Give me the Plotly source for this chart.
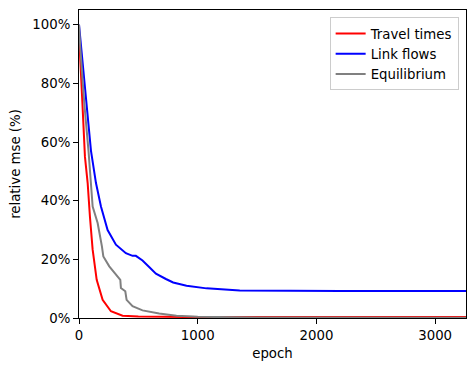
import plotly.graph_objects as go

# Data
red_epoch = [0, 8, 29, 50, 73, 92, 115, 149, 199, 269, 367, 500, 700, 1000, 2000, 3260]
red_vals = [97, 91.4, 73, 55, 46, 34.6, 23.3, 13, 6.2, 2.3, 0.8, 0.5, 0.35, 0.3, 0.3, 0.3]

blue_epoch = [0, 19, 62, 101, 143, 185, 241, 311, 395, 451, 479, 535, 591, 648, 732, 793, 906, 1074, 1354, 1700, 2200, 3260]
blue_vals = [100, 91.4, 73, 57, 46, 38, 30, 25, 22.1, 21.2, 21.2, 19.6, 17.4, 15.1, 13.3, 12.1, 11, 10.1, 9.4, 9.25, 9.2, 9.2]

gray_epoch = [0, 12, 45, 80, 115, 157, 193, 205, 255, 325, 348, 353, 390, 401, 451, 535, 675, 821, 1000, 1500, 3260]
gray_vals = [100, 91.4, 73, 57, 38, 32.4, 24.4, 21, 17.6, 14.2, 13, 10.2, 9.1, 6.2, 4, 2.6, 1.5, 0.8, 0.4, 0.2, 0.1]

names = ["Travel times", "Link flows", "Equilibrium"]
colors = ["red", "blue", "gray"]
x_ticks = [0, 1000, 2000, 3000]
y_ticks = [0, 20, 40, 60, 80, 100]
y_ticktext = [f"{v}%" for v in y_ticks]

fig = go.Figure()
for xs, ys, n, c in zip([red_epoch, blue_epoch, gray_epoch],
                        [red_vals, blue_vals, gray_vals], names, colors):
    fig.add_trace(go.Scatter(x=xs, y=ys, mode="lines", name=n,
                             line=dict(color=c, width=2)))

FS = 13.3
font = dict(family="DejaVu Sans", size=FS, color="black")
fig.update_layout(
    width=476, height=371,
    margin=dict(l=79, r=10, t=10, b=53),
    paper_bgcolor="white", plot_bgcolor="white",
    font=font,
    showlegend=True,
    legend=dict(x=0.981, y=0.976, xanchor="right", yanchor="top",
                bordercolor="#cccccc", borderwidth=1, bgcolor="rgba(255,255,255,0.8)",
                font=font, tracegroupgap=0),
)
fig.update_xaxes(range=[0, 3260], tickvals=x_ticks, tickformat="d",
                 showgrid=False, zeroline=False, automargin=False,
                 showline=True, linecolor="black", linewidth=1, mirror=True,
                 ticks="outside", ticklen=5, tickcolor="black",
                 tickfont=dict(size=FS),
                 title=dict(text="epoch", standoff=6, font=dict(size=FS)))
fig.update_yaxes(range=[0, 105], tickvals=y_ticks, ticktext=y_ticktext,
                 showgrid=False, zeroline=False, automargin=False,
                 showline=True, linecolor="black", linewidth=1, mirror=True,
                 ticks="outside", ticklen=5, tickcolor="black",
                 tickfont=dict(size=FS),
                 title=dict(text="relative mse (%)", standoff=8, font=dict(size=FS)))

fig.write_html("out.html", config={"displayModeBar": False},
               post_script="document.body.style.margin='0';")
